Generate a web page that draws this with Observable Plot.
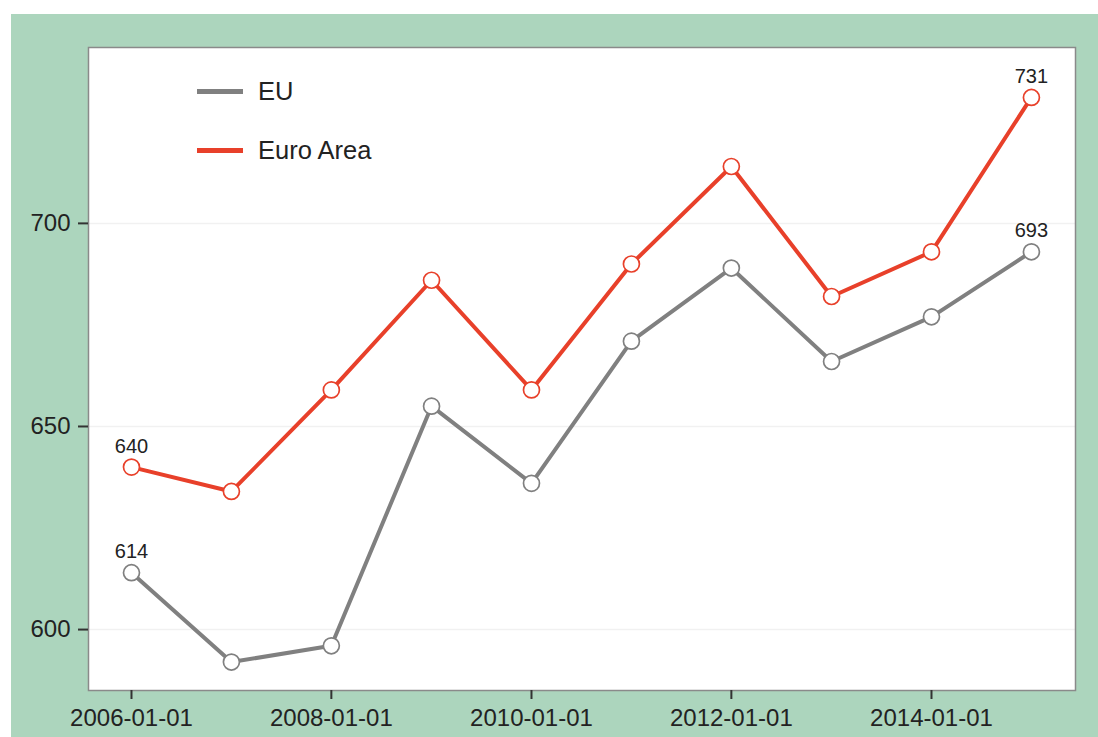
<!DOCTYPE html>
<html>
<head>
<meta charset="utf-8">
<script src="https://cdn.jsdelivr.net/npm/d3@7"></script>
<script src="https://cdn.jsdelivr.net/npm/@observablehq/plot@0.6"></script>
<style>
  html, body { margin: 0; padding: 0; background: #ffffff; }
  #wrap { position: relative; width: 1098px; height: 737px; }
  #chart { position: absolute; left: 11px; top: 14px; }
  #legend { position: absolute; left: 197px; top: 72px; font-family: "Liberation Sans", Arial, sans-serif; font-size: 25.5px; color: #222; }
  .item { display: flex; align-items: center; height: 38px; margin-bottom: 21px; }
  .sw { width: 46px; height: 5px; margin-right: 15px; }
</style>
</head>
<body>
<div id="wrap">
  <div id="chart"></div>
  <div id="legend"></div>
</div>
<script>
const years = [2006, 2007, 2008, 2009, 2010, 2011, 2012, 2013, 2014, 2015];
const euValues = [614, 592, 596, 655, 636, 671, 689, 666, 677, 693];
const euroAreaValues = [640, 634, 659, 686, 659, 690, 714, 682, 693, 731];
const seriesNames = ["EU", "Euro Area"];
const seriesColors = ["#808080", "#e8402a"];
const yTicks = [600, 650, 700];
const xTickYears = [2006, 2008, 2010, 2012, 2014];

const toDate = y => new Date(Date.UTC(y, 0, 1));
const rows = [];
years.forEach((y, i) => {
  rows.push({date: toDate(y), value: euValues[i], series: "EU"});
  rows.push({date: toDate(y), value: euroAreaValues[i], series: "Euro Area"});
});
const lastIdx = years.length - 1;
const labelRows = rows.filter(d => +d.date === +toDate(years[0]) || +d.date === +toDate(years[lastIdx]));
const colorOf = s => seriesColors[seriesNames.indexOf(s)];

const chart = Plot.plot({
  width: 1087,
  height: 723,
  marginLeft: 77,
  marginRight: 23,
  marginTop: 33,
  marginBottom: 47,
  style: {background: "#acd5bd", fontFamily: "'Liberation Sans', Arial, sans-serif", color: "#222"},
  x: {type: "utc", domain: [new Date(Date.UTC(2005, 6, 28)), new Date(Date.UTC(2015, 5, 11))]},
  y: {domain: [585.0, 743.3]},
  marks: [
    Plot.frame({fill: "white", stroke: "none"}),
    Plot.ruleY(yTicks, {stroke: "#f1f1f1", strokeWidth: 1.5}),
    Plot.line(rows, {x: "date", y: "value", z: "series", stroke: d => colorOf(d.series), strokeWidth: 4}),
    Plot.dot(rows, {x: "date", y: "value", r: 8, fill: "white", stroke: d => colorOf(d.series), strokeWidth: 1.7}),
    Plot.text(labelRows, {x: "date", y: "value", text: d => String(d.value), dy: -21, fontSize: 20, fill: "#222"}),
    Plot.frame({stroke: "#8a8a8a", strokeWidth: 1.5}),
    Plot.axisX({ticks: xTickYears.map(toDate), tickFormat: d3.utcFormat("%Y-%m-%d"), tickSize: 9, tickPadding: 9, fontSize: 24, label: null, stroke: "#333", strokeWidth: 2, fill: "#222"}),
    Plot.axisY({ticks: yTicks, tickSize: 10, tickPadding: 8, fontSize: 24, label: null, stroke: "#333", strokeWidth: 2, fill: "#222"})
  ]
});
document.getElementById("chart").appendChild(chart);

const legend = document.getElementById("legend");
seriesNames.forEach((name, i) => {
  const item = document.createElement("div");
  item.className = "item";
  const sw = document.createElement("div");
  sw.className = "sw";
  sw.style.background = seriesColors[i];
  const t = document.createElement("span");
  t.textContent = name;
  item.appendChild(sw);
  item.appendChild(t);
  legend.appendChild(item);
});
</script>
</body>
</html>
